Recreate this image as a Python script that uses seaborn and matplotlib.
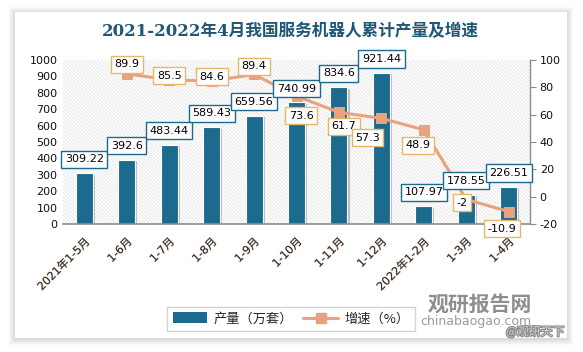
import numpy as np
import pandas as pd
import matplotlib
matplotlib.use('Agg')
import matplotlib.pyplot as plt
import matplotlib.patheffects as pe
from matplotlib.patches import Rectangle, Patch
from matplotlib.lines import Line2D
import seaborn as sns

# 数据
months = ['2021年1-5月', '1-6月', '1-7月', '1-8月', '1-9月', '1-10月',
          '1-11月', '1-12月', '2022年1-2月', '1-3月', '1-4月']
output = [309.22, 392.6, 483.44, 589.43, 659.56, 740.99, 834.6, 921.44,
          107.97, 178.55, 226.51]
growth = [np.nan, 89.9, 85.5, 84.6, 89.4, 73.6, 61.7, 57.3, 48.9, -2, -10.9]
left_ticks = list(range(0, 1001, 100))
right_ticks = list(range(-20, 101, 20))

# 增速标签的偏移(点)
growth_offsets = [(0, 0), (0, 7), (0, 3), (0, 3), (0, 6), (3.5, -14),
                  (3.5, -10), (-10, -14), (-4, -11), (-3, -2.5), (-5, -12.5)]

BAR = '#1c6a8e'
LINE = '#e9a17f'
GOLD = '#e6b767'
TITLE = '#1f5775'

sns.set_style('white')
plt.rcParams['font.family'] = ['DejaVu Sans', 'Noto Sans CJK SC']
plt.rcParams['hatch.linewidth'] = 0.5
plt.rcParams['axes.unicode_minus'] = False

fig = plt.figure(figsize=(5.83, 3.52), dpi=100)
fig.patch.set_facecolor('white')

# 卡片背景和阴影
W, H = 583, 352
x0, y0, x1, y1 = 15, 12, 567, 338
for k in range(6, 0, -1):
    fig.patches.append(Rectangle(((x0 - k) / W, 1 - (y1 + k + 1) / H),
                                 (x1 - x0 + 2 * k) / W, (y1 - y0 + 2 * k) / H,
                                 transform=fig.transFigure, fc='black', ec='none',
                                 alpha=0.025, zorder=-3))
fig.patches.append(Rectangle((x0 / W, 1 - y1 / H), (x1 - x0) / W, (y1 - y0) / H,
                             transform=fig.transFigure, fc='white', ec='none', zorder=-2))

ax = fig.add_axes([63 / W, 1 - 224 / H, (530 - 63) / W, (224 - 60) / H])
ax.set_facecolor('none')
ax.add_patch(Rectangle((0, 0), 1, 1, transform=ax.transAxes, fc='white',
                       ec='#dedede', lw=0, hatch='\\' * 9, zorder=0))

df = pd.DataFrame({'month': months, 'output': output, 'growth': growth})
sns.barplot(data=df, x='month', y='output', color=BAR, saturation=1, width=0.4,
            ax=ax, zorder=2, edgecolor='white', linewidth=0.8)
for bar in ax.patches[1:]:
    bar.set_path_effects([pe.SimplePatchShadow(offset=(1.5, -1), shadow_rgbFace='#777777', alpha=0.45),
                          pe.Normal()])

ax.set_ylim(0, 1000)
ax.set_yticks(left_ticks)
ax.set_xlim(-0.5, len(months) - 0.5)
ax.set_xlabel('')
ax.set_ylabel('')
ax.tick_params(axis='y', length=0, labelsize=8, pad=4, labelcolor='#111111')
ax.tick_params(axis='x', length=0, pad=9)
ax.set_xticks(range(len(months)))
ax.set_xticklabels(months, rotation=45, ha='right', va='top', rotation_mode='anchor',
                   fontsize=8, color='#1d2a5c')
for lab in ax.get_xticklabels():
    lab.set_path_effects([pe.withStroke(linewidth=0.8, foreground='#f2c46a', alpha=0.6)])
for s in ['left', 'right', 'top']:
    ax.spines[s].set_visible(False)
ax.spines['bottom'].set_color('#8c8c8c')
ax.spines['bottom'].set_linewidth(1.2)
ax.spines['bottom'].set_zorder(4)

ax2 = ax.twinx()
sns.lineplot(x=np.arange(len(months)), y=growth, ax=ax2, color=LINE, lw=2.2,
             marker='s', markersize=7, markeredgecolor=LINE, markerfacecolor=LINE)
ax2.set_ylim(-20, 100)
ax2.set_yticks(right_ticks)
ax2.set_xlim(-0.5, len(months) - 0.5)
ax2.set_ylabel('')
ax2.tick_params(axis='y', direction='out', length=4, color='#8c8c8c', labelsize=8,
                pad=3, labelcolor='#111111')
for s in ['left', 'top', 'bottom']:
    ax2.spines[s].set_visible(False)
ax2.spines['right'].set_color('#8c8c8c')
ax2.spines['right'].set_linewidth(1.0)

# 增速标签
for i, g in enumerate(growth):
    if np.isnan(g):
        continue
    ax2.annotate(f'{g:g}', xy=(i, g), xytext=growth_offsets[i], textcoords='offset points',
                 ha='center', va='center', fontsize=8, color='black', zorder=6,
                 annotation_clip=False,
                 bbox=dict(boxstyle='square,pad=0.32', fc='white', ec=GOLD, lw=1))

# 产量标签
for i, v in enumerate(output):
    ax2.annotate(f'{v:g}', xy=(i, v), xycoords=ax.transData, xytext=(0, 10),
                 textcoords='offset points', ha='center', va='center', fontsize=8,
                 color='black', zorder=7, annotation_clip=False,
                 bbox=dict(boxstyle='square,pad=0.32', fc='white', ec=BAR, lw=1))

fig.text(0.498, 1 - 32 / H, '2021-2022年4月我国服务机器人累计产量及增速',
         ha='center', va='center', fontsize=12, fontweight='bold', color=TITLE,
         family=['DejaVu Serif', 'Noto Sans CJK SC'])

handles = [Patch(facecolor=BAR, edgecolor='none'),
           Line2D([0], [0], color=LINE, lw=2.2, marker='s', markersize=7)]
leg = fig.legend(handles, ['产量（万套）', '增速（%）'], loc='center',
                 bbox_to_anchor=(291 / W, 1 - 319 / H), ncol=2, frameon=True,
                 fancybox=False, edgecolor='#c8c8c8', handlelength=2.6,
                 handleheight=0.9, columnspacing=0.8, handletextpad=0.5,
                 borderpad=0.4, prop={'family': ['Noto Sans CJK SC'], 'size': 9.5})
leg.get_frame().set_linewidth(1)

# 水印
fig.text(480 / W, 1 - 304 / H, '观研报告网', ha='center', va='center', fontsize=15,
         fontweight='bold', color='#8e8e8e', family=['Noto Sans CJK SC'])
fig.text(476 / W, 1 - 321 / H, 'chinabaogao.com', ha='center', va='center', fontsize=9,
         color='#9a9a9a')
fig.text(535 / W, 1 - 332 / H, '@观研天下', ha='center', va='center', fontsize=8.5,
         color='#d0d0d0', family=['Noto Sans CJK SC'],
         path_effects=[pe.withStroke(linewidth=1.5, foreground='#8a8a8a')])

fig.savefig('out.png', dpi=100)
